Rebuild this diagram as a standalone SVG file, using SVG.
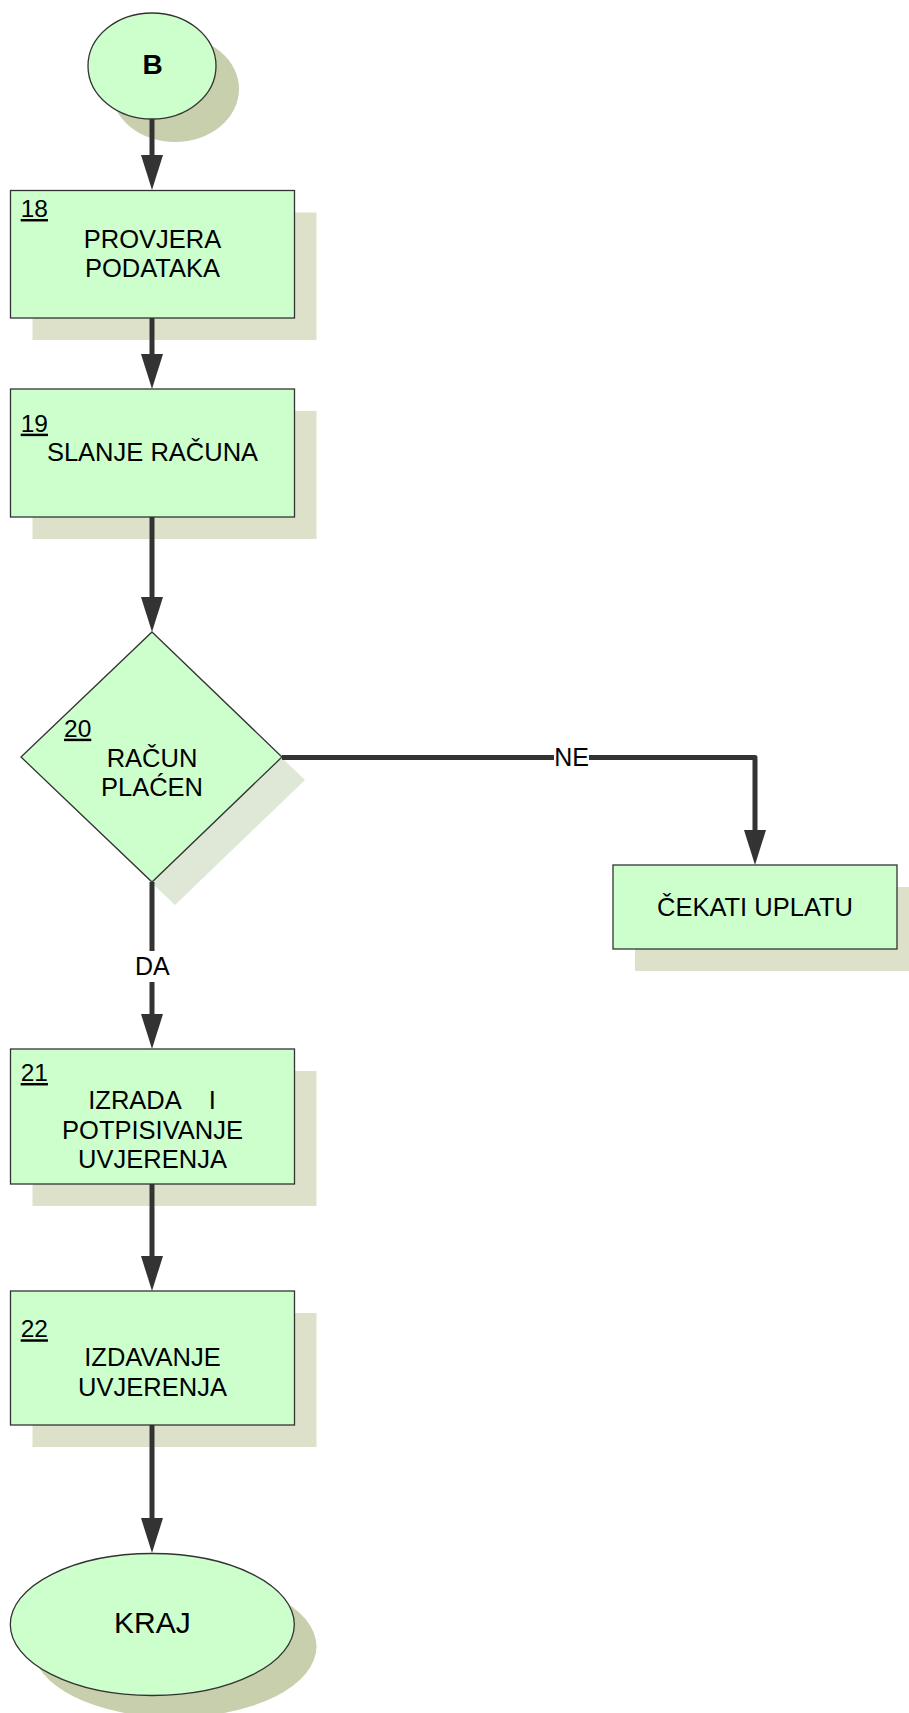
<svg xmlns="http://www.w3.org/2000/svg" width="909" height="1713" viewBox="0 0 909 1713">
  <style>
    .node { fill: #ccffcc; stroke: #333333; stroke-width: 1.3; }
    .sh-oval { fill: #c8cfac; }
    .sh-box { fill: #dde1c9; }
    .sh-dia { fill: #dfe7d6; }
    .txt { font-family: "Liberation Sans", Arial, sans-serif; font-size: 25.5px; fill: #000; text-anchor: middle; }
    .num { font-family: "Liberation Sans", Arial, sans-serif; font-size: 24.5px; fill: #000; text-decoration: underline; }
    .lbl { font-family: "Liberation Sans", Arial, sans-serif; font-size: 25px; fill: #000; text-anchor: middle; }
    .conn { fill: none; stroke: #333333; stroke-width: 5; stroke-linejoin: round; marker-end: url(#head); }
  </style>
  <defs>
    <marker id="head" markerUnits="userSpaceOnUse" markerWidth="35" markerHeight="22" refX="0" refY="11" orient="auto" overflow="visible">
      <path d="M0,0 L35,11 L0,22 Z" fill="#333333"/>
    </marker>
  </defs>

  <!-- shadows -->
  <g id="shadows">
    <ellipse class="sh-oval" cx="175" cy="89" rx="64" ry="53"/>
    <rect class="sh-box" x="32.5" y="212.5" width="284" height="127.5"/>
    <rect class="sh-box" x="32.5" y="411" width="284" height="128"/>
    <polygon class="sh-dia" points="175,655 305,780 175,905 44,780"/>
    <rect class="sh-box" x="635" y="887" width="284" height="84"/>
    <rect class="sh-box" x="32.5" y="1071" width="284" height="135"/>
    <rect class="sh-box" x="32.5" y="1313" width="284" height="134"/>
    <ellipse class="sh-oval" cx="174.5" cy="1646.5" rx="142" ry="71"/>
  </g>

  <!-- connectors -->
  <g id="connectors">
    <path class="conn" d="M152,119 V155"/>
    <path class="conn" d="M152,318 V354"/>
    <path class="conn" d="M152,517 V597"/>
    <path class="conn" d="M282,757.5 H755 V830"/>
    <rect x="554" y="747" width="35" height="22" fill="#ffffff"/>
    <text class="lbl" x="571.5" y="766">NE</text>
    <path class="conn" d="M152,882 V1014"/>
    <rect x="134" y="951" width="36" height="31" fill="#ffffff"/>
    <text class="lbl" x="152.3" y="974.5">DA</text>
    <path class="conn" d="M152,1184 V1256"/>
    <path class="conn" d="M152,1425 V1518"/>
  </g>

  <g id="start-b">
    <ellipse class="node" cx="152" cy="66" rx="64" ry="53"/>
    <text class="txt" x="152.5" y="73.5" style="font-weight:bold;font-size:28px">B</text>
  </g>

  <g id="step-18">
    <rect class="node" x="10.5" y="190.5" width="284" height="127.5"/>
    <text class="num" x="20.7" y="217">18</text>
    <text class="txt" x="152.5" y="247.7">PROVJERA</text>
    <text class="txt" x="152.5" y="277">PODATAKA</text>
  </g>

  <g id="step-19">
    <rect class="node" x="10.5" y="389" width="284" height="128"/>
    <text class="num" x="20.7" y="431.7">19</text>
    <text class="txt" x="152.5" y="461">SLANJE RAČUNA</text>
  </g>

  <g id="decision-20">
    <polygon class="node" points="152,632 282,757 152,882 21,757"/>
    <text class="num" x="64" y="736.7">20</text>
    <text class="txt" x="152" y="766.7">RAČUN</text>
    <text class="txt" x="152" y="796">PLAĆEN</text>
  </g>

  <g id="wait-payment">
    <rect class="node" x="613" y="865" width="284" height="84"/>
    <text class="txt" x="755" y="915.5">ČEKATI UPLATU</text>
  </g>

  <g id="step-21">
    <rect class="node" x="10.5" y="1049" width="284" height="135"/>
    <text class="num" x="20.7" y="1081">21</text>
    <text class="txt" x="152" y="1109" style="white-space:pre">IZRADA    I</text>
    <text class="txt" x="152.5" y="1139">POTPISIVANJE</text>
    <text class="txt" x="152.5" y="1168.3">UVJERENJA</text>
  </g>

  <g id="step-22">
    <rect class="node" x="10.5" y="1291" width="284" height="134"/>
    <text class="num" x="20.7" y="1337.3">22</text>
    <text class="txt" x="152.5" y="1365.7">IZDAVANJE</text>
    <text class="txt" x="152.5" y="1395.7">UVJERENJA</text>
  </g>

  <g id="end-kraj">
    <ellipse class="node" cx="152.3" cy="1624.5" rx="142" ry="71"/>
    <text class="txt" x="152.3" y="1632.5" style="font-size:30px">KRAJ</text>
  </g>
</svg>
